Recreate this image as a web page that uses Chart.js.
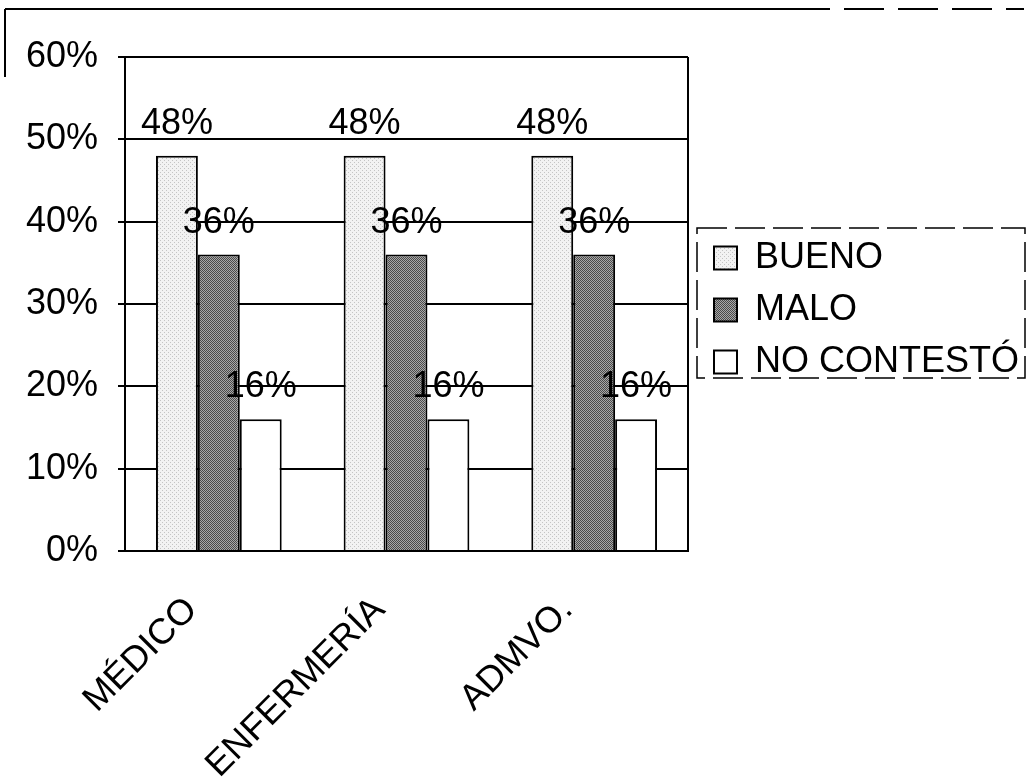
<!DOCTYPE html>
<html><head><meta charset="utf-8">
<script src="https://cdn.jsdelivr.net/npm/chart.js@4/dist/chart.umd.min.js"></script>
<style>html,body{margin:0;padding:0;background:#fff;} #wrap{width:1031px;height:781px;}</style>
</head><body><div id="wrap"><canvas id="c" width="1031" height="781"></canvas></div>
<script>
const categories = ['MÉDICO', 'ENFERMERÍA', 'ADMVO.'];
const seriesNames = ['BUENO', 'MALO', 'NO CONTESTÓ'];
const bueno = [48, 48, 48];
const malo = [36, 36, 36];
const noContesto = [16, 16, 16];
const yTickValues = [0, 10, 20, 30, 40, 50, 60];
const yTickLabels = ['0%', '10%', '20%', '30%', '40%', '50%', '60%'];

const FONT = 'Liberation Sans, Arial, sans-serif';
const FS = 36;

function makePattern(size, draw) {
  const c = document.createElement('canvas');
  c.width = size; c.height = size;
  const g = c.getContext('2d');
  draw(g);
  return g.createPattern(c, 'repeat');
}
const ctx = document.getElementById('c').getContext('2d');
const buenoFill = makePattern(4, g => {
  g.fillStyle = '#f2f2f2'; g.fillRect(0, 0, 4, 4);
  g.fillStyle = '#c4c4c4'; g.fillRect(0, 0, 1, 1); g.fillRect(2, 2, 1, 1);
});
const maloFill = makePattern(2, g => {
  g.fillStyle = '#a8a8a8'; g.fillRect(0, 0, 2, 2);
  g.fillStyle = '#4a4a4a'; g.fillRect(0, 0, 1, 1); g.fillRect(1, 1, 1, 1);
});

const valueLabels = {
  id: 'valueLabels',
  afterDatasetsDraw(chart) {
    const c = chart.ctx;
    c.save();
    c.fillStyle = '#000';
    c.font = FS + 'px ' + FONT;
    c.textAlign = 'center';
    c.textBaseline = 'alphabetic';
    chart.data.datasets.forEach((ds, i) => {
      chart.getDatasetMeta(i).data.forEach((el, j) => {
        c.fillText(ds.data[j] + '%', el.x, el.y - 22);
      });
    });
    c.restore();
  }
};

const legendFit = {
  id: 'legendFit',
  beforeLayout(chart) {
    const lg = chart.legend;
    if (lg && !lg._wPatched) {
      const orig = lg.fit.bind(lg);
      lg.fit = function () { orig(); this.width = 330; };
      lg._wPatched = true;
    }
  },
  afterLayout(chart) {
    const lg = chart.legend;
    if (lg) { lg.left += 10; lg.right += 10; }
  }
};

const frames = {
  id: 'frames',
  afterDraw(chart) {
    const c = chart.ctx, a = chart.chartArea;
    c.save();
    c.strokeStyle = '#000';
    c.lineWidth = 2;
    c.beginPath(); c.moveTo(a.right, a.top); c.lineTo(a.right, a.bottom); c.stroke();
    c.beginPath(); c.moveTo(5, 9); c.lineTo(790, 9); c.stroke();
    c.setLineDash([40, 14]);
    c.beginPath(); c.moveTo(790, 9); c.lineTo(1024, 9); c.stroke();
    c.setLineDash([]);
    c.beginPath(); c.moveTo(5, 9); c.lineTo(5, 77); c.stroke();
    const lg = chart.legend;
    if (lg && lg.legendHitBoxes && lg.legendHitBoxes.length) {
      const hb = lg.legendHitBoxes;
      const top = hb[0].top - 12;
      const last = hb[hb.length - 1];
      const bottom = last.top + last.height - 2;
      c.lineWidth = 1.5;
      c.setLineDash([30, 8]);
      c.strokeRect(697, top, 1025 - 697, bottom - top);
    }
    c.restore();
  }
};

new Chart(ctx, {
  type: 'bar',
  data: {
    labels: categories,
    datasets: [
      { label: seriesNames[0], data: bueno, backgroundColor: buenoFill, borderColor: '#000', borderWidth: 2 },
      { label: seriesNames[1], data: malo, backgroundColor: maloFill, borderColor: '#000', borderWidth: 2 },
      { label: seriesNames[2], data: noContesto, backgroundColor: '#ffffff', borderColor: '#000', borderWidth: 2 }
    ]
  },
  options: {
    responsive: false,
    animation: false,
    devicePixelRatio: 1,
    layout: { padding: { top: 57, left: 0, right: 13, bottom: 0 } },
    datasets: { bar: { barPercentage: 1, categoryPercentage: 0.67 } },
    scales: {
      x: {
        grid: { display: false },
        border: { display: true, color: '#000', width: 2 },
        ticks: { maxRotation: 45, minRotation: 45, autoSkip: false, labelOffset: -27, padding: 30, color: '#000', font: { family: FONT, size: FS } },
        afterFit: s => { s.height = 230; }
      },
      y: {
        min: 0, max: 60,
        afterBuildTicks: s => { s.ticks = yTickValues.map(v => ({ value: v })); },
        ticks: { callback: (v, i) => yTickLabels[i], padding: 20, color: '#000', font: { family: FONT, size: FS } },
        grid: { color: '#000', lineWidth: 2, tickLength: 7 },
        border: { color: '#000', width: 2 },
        afterFit: s => { s.width = 125; }
      }
    },
    plugins: {
      legend: {
        position: 'right',
        fullSize: false,
        title: { display: true, text: '', font: { size: 1 }, padding: { top: 6, bottom: 5 } },
        labels: { boxWidth: 23, boxHeight: 23, padding: 16, color: '#000', font: { family: FONT, size: 36 } }
      },
      tooltip: { enabled: false }
    }
  },
  plugins: [legendFit, valueLabels, frames]
});
</script>
</body></html>
